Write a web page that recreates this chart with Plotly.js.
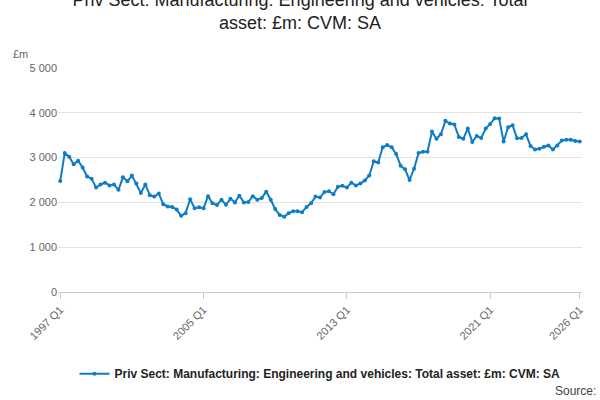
<!DOCTYPE html>
<html>
<head>
<meta charset="utf-8">
<script src="https://cdn.plot.ly/plotly-3.0.1.min.js"></script>
<style>body{margin:0}#chart{width:600px;height:400px}</style>
</head>
<body>
<div id="chart"></div>
<script>
const startYear = 1997;
const values = [
  2480, 3100, 3020, 2850,
  2930, 2780, 2580, 2530,
  2330, 2400, 2440, 2380,
  2400, 2280, 2560, 2470,
  2600, 2420, 2210, 2400,
  2160, 2130, 2200, 1960,
  1910, 1900, 1840, 1700,
  1760, 2070, 1870, 1890,
  1870, 2140, 1980, 1940,
  2060, 1950, 2080, 2000,
  2150, 2000, 2010, 2140,
  2060, 2100, 2240, 2060,
  1850, 1720, 1680, 1760,
  1800, 1800, 1780, 1900,
  1980, 2130, 2110, 2230,
  2250, 2180, 2350, 2370,
  2330, 2440, 2380, 2420,
  2490, 2600, 2920, 2890,
  3230, 3280, 3230, 3080,
  2820, 2740, 2500, 2750,
  3100, 3130, 3130, 3580,
  3420, 3520, 3820, 3760,
  3740, 3460, 3420, 3650,
  3350, 3480, 3440, 3650,
  3750, 3880, 3870, 3360,
  3680, 3720, 3430, 3440,
  3520, 3260, 3180, 3200,
  3240, 3270, 3180, 3270,
  3380, 3400, 3400, 3370,
  3360
];
const quarters = values.map((_, i) => `${startYear + Math.floor(i / 4)} Q${(i % 4) + 1}`);
const tickLabels = ['1997 Q1', '2005 Q1', '2013 Q1', '2021 Q1', '2026 Q1'];
const seriesName = 'Priv Sect: Manufacturing: Engineering and vehicles: Total asset: £m: CVM: SA';

const trace = {
  x: quarters,
  y: values,
  type: 'scatter',
  mode: 'lines+markers',
  name: seriesName,
  line: { color: '#0f7cc4', width: 2 },
  marker: { color: '#0f7cc4', size: 4 }
};

const layout = {
  width: 600,
  height: 400,
  font: { family: 'Liberation Sans, Arial, sans-serif', color: '#444' },
  separators: '. ',
  title: {
    text: 'Priv Sect: Manufacturing: Engineering and vehicles: Total<br>asset: £m: CVM: SA',
    font: { size: 18, color: '#222' },
    x: 0.5, y: 0.985, yanchor: 'top'
  },
  margin: { t: 68, l: 58, r: 18, b: 102 },
  showlegend: true,
  legend: {
    orientation: 'h', x: 0.5, xanchor: 'center', y: -0.3, yanchor: 'top',
    font: { size: 12, color: '#222', weight: 'bold' }
  },
  xaxis: {
    type: 'category',
    tickvals: tickLabels,
    ticktext: tickLabels,
    tickangle: -45,
    ticks: 'outside', ticklen: 6, tickcolor: '#ccc',
    showgrid: false,
    showline: true, linecolor: '#ccc',
    tickfont: { size: 11, color: '#666' },
    range: [-0.5, values.length - 0.5]
  },
  yaxis: {
    range: [0, 5000],
    dtick: 1000,
    tickformat: ',d',
    gridcolor: '#e2e2e2',
    zeroline: false,
    tickfont: { size: 11, color: '#666' }
  },
  annotations: [
    { text: '£m', xref: 'paper', yref: 'paper', x: -0.09, y: 1.1, xanchor: 'left', showarrow: false, font: { size: 11, color: '#666' } },
    { text: 'Source:', xref: 'paper', yref: 'paper', x: 1.03, y: -0.4, xanchor: 'right', yanchor: 'top', showarrow: false, font: { size: 12, color: '#444' } }
  ]
};

Plotly.newPlot('chart', [trace], layout, { displayModeBar: false });
</script>
</body>
</html>
